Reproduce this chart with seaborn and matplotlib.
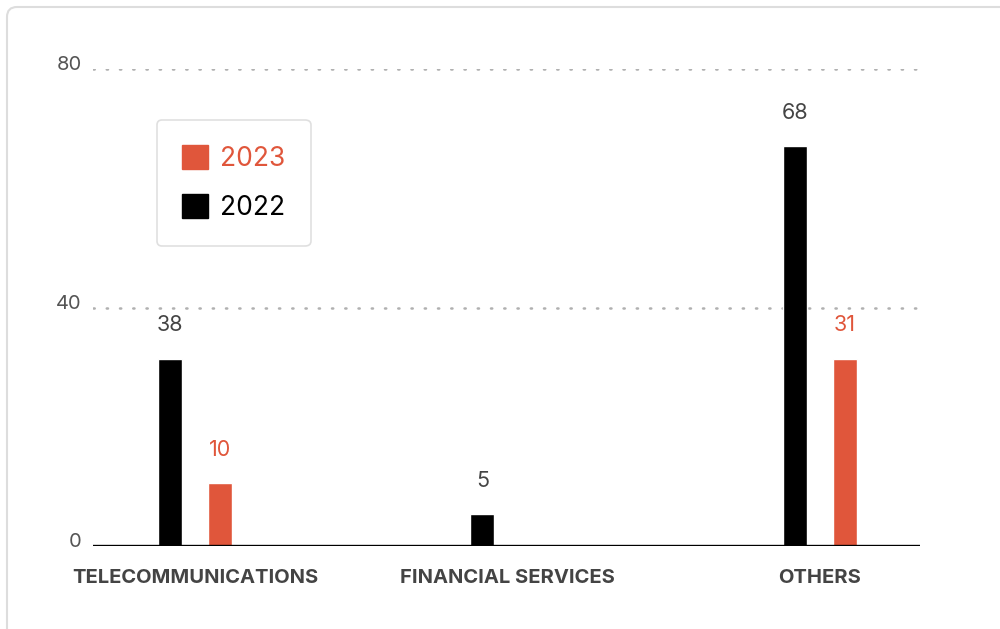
import numpy as np
import pandas as pd
import matplotlib.pyplot as plt
import seaborn as sns
from matplotlib.patches import Patch, FancyBboxPatch
from matplotlib import transforms

# Datos
categories = ['TELECOMMUNICATIONS', 'FINANCIAL SERVICES', 'OTHERS']
years = ['2022', '2023']
# alturas de las barras tal como se dibujan
values_2022 = [31.4, 5.3, 67.1]
values_2023 = [10.5, 0, 31.4]
# etiquetas impresas encima de las barras
labels_2022 = ['38', '5', '68']
labels_2023 = ['10', '', '31']
yticks = [0, 40, 80]

red = '#E0563B'
black = '#000000'

df = pd.DataFrame({
    'category': categories * 2,
    'year': ['2022'] * 3 + ['2023'] * 3,
    'value': values_2022 + values_2023,
})

sns.set_theme(style='white')
plt.rcParams['font.family'] = ['Inter', 'DejaVu Sans']

fig = plt.figure(figsize=(10, 6.29), dpi=100)
ax = fig.add_axes([0.093, 0.1324, 0.827, 0.7574])

sns.barplot(data=df, x='category', y='value', hue='year', hue_order=years,
            palette={'2022': black, '2023': red}, width=0.32, gap=0.52,
            saturation=1, legend=False, ax=ax)

ax.set_xlim(-0.326, 2.32)
ax.set_ylim(0, 80)
sns.despine(ax=ax, left=True, bottom=True)

# lineas de referencia punteadas
for y in yticks[1:]:
    ax.axhline(y, color='#b0b0b0', lw=1.8, ls=(0, (0.5, 4.8)),
               dash_capstyle='round', zorder=0)
ax.axhline(0, color='black', lw=1.7, zorder=5)

ax.set_xlabel('')
ax.set_ylabel('')
ax.set_yticks(yticks)
ax.set_yticklabels([str(t) for t in yticks])
ax.tick_params(axis='y', length=0, pad=8, labelsize=14.5, labelcolor='#555555')
ax.tick_params(axis='x', length=0, pad=16.5, labelsize=14.5, labelcolor='#444444')
for lab in ax.get_xticklabels():
    lab.set_fontweight('bold')
offset = transforms.ScaledTranslation(0, 0.06, fig.dpi_scale_trans)
for lab in ax.get_yticklabels():
    lab.set_transform(lab.get_transform() + offset)

# etiquetas de valor
for container, labs, col in zip(ax.containers, [labels_2022, labels_2023],
                                ['#444444', red]):
    ax.bar_label(container, labels=labs, padding=17, fontsize=15.5, color=col)

# leyenda
handles = [Patch(color=red, label='2023'), Patch(color=black, label='2022')]
leg = ax.legend(handles=handles, loc='upper left',
                bbox_to_anchor=(0.157, 1 - 120 / 629), bbox_transform=fig.transFigure,
                fontsize=19, handlelength=1, handleheight=1, handletextpad=0.45,
                borderpad=0.95, labelspacing=0.85, frameon=True, fancybox=True,
                edgecolor='#d8d8d8', borderaxespad=0)
leg.get_frame().set_linewidth(1.2)
leg.get_texts()[0].set_color(red)
leg.get_texts()[1].set_color('black')

# marco de la tarjeta
card = FancyBboxPatch((7, -20), 1020, 642, boxstyle='round,pad=0,rounding_size=10',
                      transform=transforms.IdentityTransform(), fill=False,
                      ec='#dddddd', lw=1.5)
fig.add_artist(card)

fig.savefig('out.png', dpi=100)
